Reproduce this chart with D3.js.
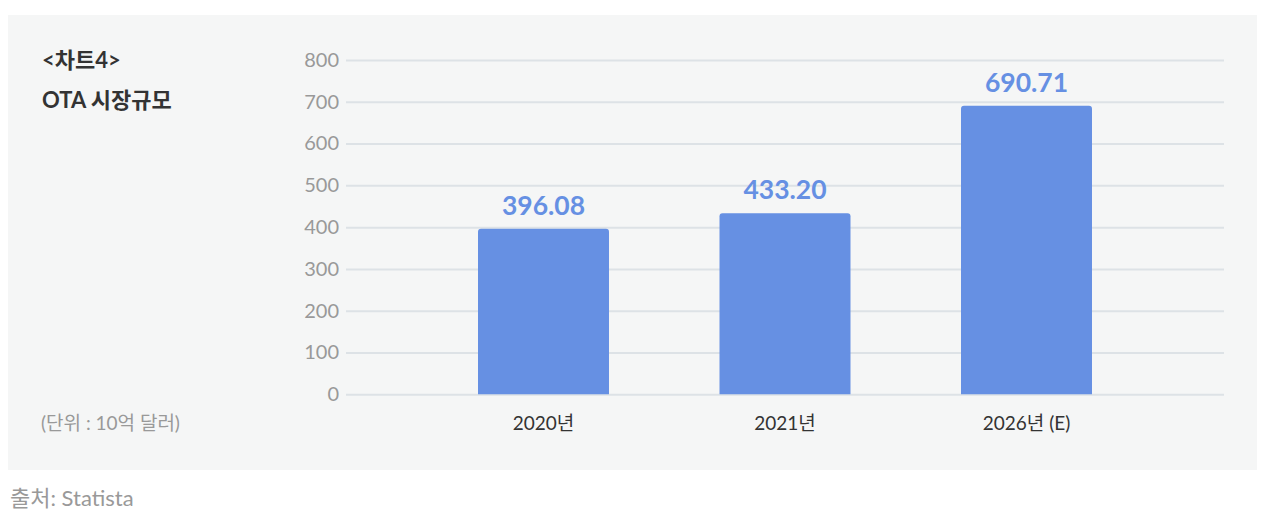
<!DOCTYPE html>
<html><head><meta charset="utf-8">
<script src="https://cdn.jsdelivr.net/npm/d3@7"></script>
<style>
html,body{margin:0;padding:0;background:#fff;}
svg{display:block;font-family:Lato,"Noto Sans CJK KR",sans-serif;}
</style></head>
<body><svg id="c" width="1266" height="515"></svg>
<script>
const categories = ["2020년", "2021년", "2026년 (E)"];
const values = [396.08, 433.20, 690.71];
const valueLabels = ["396.08", "433.20", "690.71"];
const yTicks = [0, 100, 200, 300, 400, 500, 600, 700, 800];

const svg = d3.select("#c");
svg.append("rect").attr("x", 8).attr("y", 15).attr("width", 1249).attr("height", 455).attr("fill", "#f5f6f6");

const x = d3.scaleBand().domain(categories).range([346, 1224]).paddingInner(0.4576).paddingOuter(0.5466);
const y = d3.scaleLinear().domain([0, 800]).range([394.3, 60]);

// grid
const yAxis = d3.axisLeft(y).tickValues(yTicks).tickSize(-(1224 - 346)).tickPadding(7).tickFormat(d3.format("d"));
const ga = svg.append("g").attr("transform", "translate(346,0)").call(yAxis);
ga.select(".domain").remove();
ga.selectAll(".tick line").attr("stroke", "#dde2e6").attr("stroke-width", 2);
ga.selectAll(".tick text").attr("fill", "#999").attr("font-size", 20).attr("font-family", "Lato,sans-serif");

// bars
svg.append("g").selectAll("path").data(values).join("path")
  .attr("fill", "#6690e3")
  .attr("d", (d, i) => {
    const x0 = x(categories[i]), w = x.bandwidth(), y0 = y(d), y1 = y(0), r = 3;
    return `M${x0},${y1}V${y0 + r}Q${x0},${y0} ${x0 + r},${y0}H${x0 + w - r}Q${x0 + w},${y0} ${x0 + w},${y0 + r}V${y1}Z`;
  });

// value labels
svg.append("g").selectAll("text").data(values).join("text")
  .attr("x", (d, i) => x(categories[i]) + x.bandwidth() / 2)
  .attr("y", d => y(d) - 14)
  .attr("text-anchor", "middle")
  .attr("fill", "#6690e3").attr("font-size", 26.5).attr("font-weight", 700)
  .text((d, i) => valueLabels[i]);

// x axis labels
const xAxis = d3.axisBottom(x).tickSize(0).tickPadding(0);
const gx = svg.append("g").attr("transform", "translate(0,394.3)").call(xAxis);
gx.select(".domain").remove();
gx.selectAll(".tick text").attr("fill", "#333").attr("font-size", 19).attr("dy", 0).attr("y", 36)
  .attr("font-family", "Lato,'Noto Sans CJK KR',sans-serif");

// titles
svg.append("text").attr("x", 42).attr("y", 68).attr("fill", "#333").attr("font-size", 22).attr("font-weight", 700).text("<차트4>");
svg.append("text").attr("x", 42).attr("y", 108).attr("fill", "#333").attr("font-size", 22).attr("font-weight", 700).text("OTA 시장규모");
svg.append("text").attr("x", 41).attr("y", 430).attr("fill", "#999").attr("font-size", 19).text("(단위 : 10억 달러)");
svg.append("text").attr("x", 10).attr("y", 506).attr("fill", "#999").attr("font-size", 22).text("출처: Statista");
</script></body></html>
